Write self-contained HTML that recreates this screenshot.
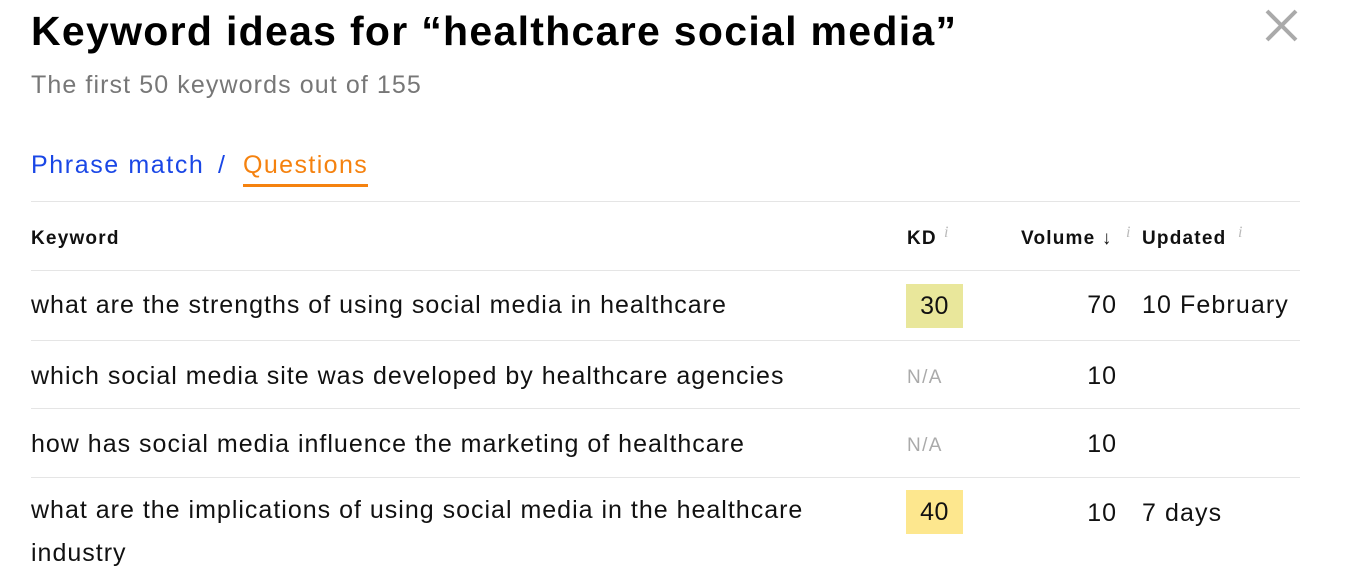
<!DOCTYPE html>
<html><head><meta charset="utf-8"><style>
body{margin:0;width:1347px;height:581px;background:#fff;overflow:hidden;font-family:"Liberation Sans",sans-serif;position:relative;color:#111}
.a{position:absolute;white-space:nowrap}
.line{position:absolute;left:31px;width:1269px;height:1px;background:#e5e5e5}
.h{font-weight:bold;font-size:19px;top:228px;color:#111;letter-spacing:1.2px}
.i{font-family:"Liberation Serif",serif;font-style:italic;color:#bbb;font-size:16px;top:224px}
.kw{font-size:25px;left:31px;letter-spacing:1px}
.vol{font-size:25px;width:60px;text-align:right;left:1057px;letter-spacing:1px}
.na{font-size:19px;color:#aaa;left:907px;letter-spacing:1.4px}
.kd{left:906px;width:57px;height:44px;line-height:44px;text-align:center;font-size:25px;letter-spacing:0.5px}
</style></head><body>
<div class="a" style="left:31px;top:8px;font-size:41px;font-weight:bold;letter-spacing:1.3px;color:#000">Keyword ideas for “healthcare social media”</div>
<svg class="a" style="left:1265px;top:9px" width="33" height="33"><path d="M2 2L31 31M31 2L2 31" stroke="#aaa" stroke-width="4"/></svg>
<div class="a" style="left:31px;top:71px;font-size:25px;color:#777;letter-spacing:1.1px">The first 50 keywords out of 155</div>
<div class="a" style="left:31px;top:151px;font-size:25px;color:#1a47e6;letter-spacing:1.6px">Phrase match</div>
<div class="a" style="left:218px;top:151px;font-size:25px;color:#1a47e6">/</div>
<div class="a" style="left:243px;top:151px;font-size:25px;color:#f5820f;border-bottom:3px solid #f5820f;padding-bottom:4px;width:125px;letter-spacing:1.4px">Questions</div>
<div class="line" style="top:201px"></div>
<div class="a h" style="left:31px">Keyword</div>
<div class="a h" style="left:907px">KD</div>
<div class="a i" style="left:944px">i</div>
<div class="a h" style="left:1021px">Volume ↓</div>
<div class="a i" style="left:1126px">i</div>
<div class="a h" style="left:1142px">Updated</div>
<div class="a i" style="left:1238px">i</div>
<div class="line" style="top:270px"></div>

<div class="a kw" style="top:291px">what are the strengths of using social media in healthcare</div>
<div class="a kd" style="top:284px;background:#e9e79b">30</div>
<div class="a vol" style="top:291px">70</div>
<div class="a" style="left:1142px;top:291px;font-size:25px;letter-spacing:1.1px">10 February</div>
<div class="line" style="top:340px"></div>

<div class="a kw" style="top:362px">which social media site was developed by healthcare agencies</div>
<div class="a na" style="top:367px">N/A</div>
<div class="a vol" style="top:362px">10</div>
<div class="line" style="top:408px"></div>

<div class="a kw" style="top:430px">how has social media influence the marketing of healthcare</div>
<div class="a na" style="top:435px">N/A</div>
<div class="a vol" style="top:430px">10</div>
<div class="line" style="top:477px"></div>

<div class="a kw" style="top:499px;line-height:43px;margin-top:-10px">what are the implications of using social media in the healthcare<br>industry</div>
<div class="a kd" style="top:490px;background:#fde78e">40</div>
<div class="a vol" style="top:499px">10</div>
<div class="a" style="left:1142px;top:499px;font-size:25px;letter-spacing:1.1px">7 days</div>
</body></html>
